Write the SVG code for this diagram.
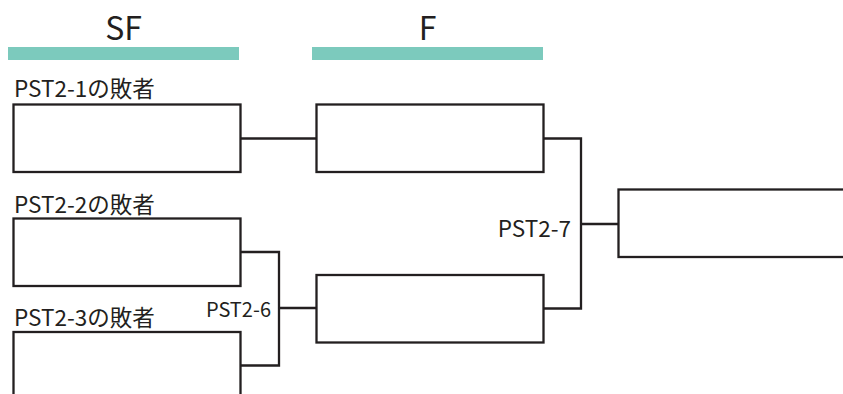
<svg xmlns="http://www.w3.org/2000/svg" width="843" height="394" viewBox="0 0 843 394">
<style>
.box{fill:#fff;stroke:#231f20;stroke-width:2.3}
.con{fill:none;stroke:#231f20;stroke-width:2.3}
.bar{fill:#7ccabd}
.hd{font-family:"Noto Sans CJK JP","Noto Sans",sans-serif;font-size:32px;fill:#231f20;text-anchor:middle}
.lb{font-family:"Noto Sans CJK JP","Noto Sans",sans-serif;font-size:22.5px;fill:#231f20}
.sm{font-size:20px}
</style>
<rect width="843" height="394" fill="#fff"/>
<g id="header-sf"><rect class="bar" x="8" y="47" width="231" height="13"/><text class="hd" x="123.5" y="40">SF</text></g>
<g id="header-f"><rect class="bar" x="312" y="47" width="231" height="13"/><text class="hd" x="427.5" y="40">F</text></g>
<g id="connectors">
<path class="con" d="M240.5 138.5H316.5"/>
<path class="con" d="M240.5 252H279V365.5H240.5M279 308H316.5"/>
<path class="con" d="M543.5 138.5H581V308.5H543.5M581 224H618.5"/>
</g>
<g id="sf1"><text class="lb" x="14" y="97">PST2-1の敗者</text><rect class="box" x="13.5" y="104.5" width="227" height="67.5"/></g>
<g id="sf2"><text class="lb" x="14" y="213">PST2-2の敗者</text><rect class="box" x="13.5" y="218.5" width="227" height="67.5"/></g>
<g id="sf3"><text class="lb" x="14" y="326">PST2-3の敗者</text><rect class="box" x="13.5" y="332" width="227" height="67.5"/></g>
<g id="f1"><rect class="box" x="316.5" y="104.5" width="227" height="67.5"/></g>
<g id="f2"><text class="lb sm" x="271" y="316.5" text-anchor="end">PST2-6</text><rect class="box" x="316.5" y="275" width="227" height="67.5"/></g>
<g id="final"><text class="lb" x="571" y="237" text-anchor="end">PST2-7</text><rect class="box" x="618.5" y="189.5" width="240" height="67.5"/></g>
</svg>
